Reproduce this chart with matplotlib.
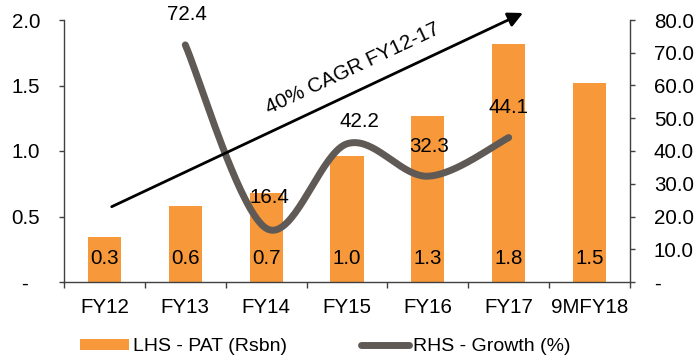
import numpy as np
import matplotlib
matplotlib.use("Agg")
import matplotlib.pyplot as plt
from matplotlib.lines import Line2D
from matplotlib.patches import Patch, FancyArrowPatch

# ---- data ----
years = ["FY12", "FY13", "FY14", "FY15", "FY16", "FY17", "9MFY18"]
pat = [0.34, 0.58, 0.68, 0.96, 1.27, 1.82, 1.52]          # LHS - PAT (Rsbn)
growth_years = ["FY13", "FY14", "FY15", "FY16", "FY17"]
growth = [72.4, 16.4, 42.2, 32.3, 44.1]                     # RHS - Growth (%)
left_ticks = [0.0, 0.5, 1.0, 1.5, 2.0]
right_ticks = [0, 10, 20, 30, 40, 50, 60, 70, 80]
cagr_text = "40% CAGR FY12-17"

# ---- style ----
plt.rcParams["font.family"] = ["Liberation Sans", "DejaVu Sans"]
plt.rcParams["font.size"] = 14.8
ORANGE = "#F7993A"
GREY = "#605A56"
AXC = "#404040"

W, H = 697, 358
fig = plt.figure(figsize=(W / 100, H / 100), dpi=100)
ax = fig.add_axes([64 / W, 76 / H, 566 / W, 262 / H])
ax2 = ax.twinx()

x = np.arange(len(years))
ax.bar(x, pat, width=0.41, color=ORANGE, zorder=2)
for xi, v in zip(x, pat):
    ax.annotate(f"{v:.1f}", (xi, 0), xytext=(0, 23), textcoords="offset pixels",
                ha="center", va="center", color="black")


def smooth_curve(xs, ys, n=40):
    """Bezier smoothing through every point (spreadsheet-style smoothed line)."""
    pts = np.column_stack([xs, ys]).astype(float)
    P = np.vstack([pts[0], pts, pts[-1]])
    out = []
    t = np.linspace(0, 1, n)[:, None]
    for i in range(len(pts) - 1):
        p0, p1, p2, p3 = P[i], P[i + 1], P[i + 2], P[i + 3]
        c1 = p1 + (p2 - p0) / 6.0
        c2 = p2 - (p3 - p1) / 6.0
        seg = ((1 - t) ** 3) * p1 + 3 * ((1 - t) ** 2) * t * c1 + 3 * (1 - t) * t ** 2 * c2 + t ** 3 * p2
        out.append(seg if i == 0 else seg[1:])
    out = np.vstack(out)
    return out[:, 0], out[:, 1]


gx = np.array([years.index(g) for g in growth_years])
sx, sy = smooth_curve(gx, growth)
ax2.plot(sx, sy, color=GREY, lw=5, solid_capstyle="round", zorder=3)
label_offsets = [(2, 30), (3, 31), (12, 22), (1, 30), (0, 30)]
for xi, v, off in zip(gx, growth, label_offsets):
    ax2.annotate(f"{v:.1f}", (xi, v), xytext=off, textcoords="offset pixels",
                 ha="center", va="center", color="black", zorder=4)

# ---- axes ----
ax.set_xlim(-0.5, len(years) - 0.5)
ax.set_ylim(0, 2.0)
ax2.set_ylim(0, 80)
ax.set_yticks(left_ticks)
ax.set_yticklabels(["-  " if v == 0 else f"{v:.1f}" for v in left_ticks])
ax2.set_yticks(right_ticks)
ax2.set_yticklabels(["-" if v == 0 else f"{v:.1f}" for v in right_ticks])
ax.set_xticks(x)
ax.set_xticklabels(years)
ax.set_xticks(np.arange(-0.5, len(years), 1.0), minor=True)

for a in (ax, ax2):
    a.spines["top"].set_visible(False)
    for s in a.spines.values():
        s.set_color(AXC)
        s.set_linewidth(1.0)
ax.spines["right"].set_visible(False)
ax2.spines["left"].set_visible(False)
ax2.spines["bottom"].set_visible(False)

ax.tick_params(axis="y", direction="out", length=3.6, width=1.0, color=AXC, pad=13.5)
ax2.tick_params(axis="y", direction="out", length=3.6, width=1.0, color=AXC, pad=13.5)
ax.tick_params(axis="x", which="major", length=0, pad=11.5)
ax.tick_params(axis="x", which="minor", direction="out", length=4, width=1.0, color=AXC)

# ---- growth arrow annotation ----
arrow = FancyArrowPatch((111.7 / W, 1 - 206.7 / H), (523 / W, 1 - 13 / H),
                        transform=fig.transFigure, arrowstyle="-|>", mutation_scale=22,
                        lw=2.0, color="black", shrinkA=0, shrinkB=0, zorder=5)
fig.add_artist(arrow)
fig.text(353 / W, 1 - 69 / H, cagr_text, rotation=25.2, rotation_mode="anchor",
         ha="center", va="center", color="black")

# ---- legend ----
handles = [Patch(facecolor=ORANGE, edgecolor="none"),
           Line2D([0], [0], color=GREY, lw=5, solid_capstyle="round")]
fig.legend(handles, ["LHS - PAT (Rsbn)", "RHS - Growth (%)"], loc="center",
           bbox_to_anchor=(0.467, 0.031), ncol=2, frameon=False, fontsize=14,
           handlelength=2.5, handleheight=0.5, handletextpad=0.2, columnspacing=3.8)

fig.savefig("out.png", dpi=100)
